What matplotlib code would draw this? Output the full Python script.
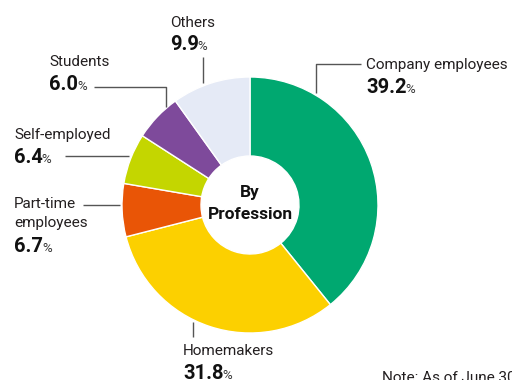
import matplotlib
matplotlib.use("Agg")
import matplotlib.pyplot as plt

# Survey share by profession (percent)
categories = ["Company employees", "Homemakers", "Part-time employees",
              "Self-employed", "Students", "Others"]
shares = [39.2, 31.8, 6.7, 6.4, 6.0, 9.9]
colors = ["#00A870", "#FCD000", "#E95506", "#C4D600", "#7E4A9B", "#E5EAF6"]
center_title = ["By", "Profession"]
note = "Note: As of June 30"

W, H = 512, 380
fig = plt.figure(figsize=(W / 100, H / 100), dpi=100)
ax = fig.add_axes([0, 0, 1, 1])

def Y(y):
    # pixel row (top-down) -> axes coordinate (bottom-up)
    return H - y

cx, cy, R, r_in = 250, 205, 128, 49
ax.pie(shares, colors=colors, startangle=90, counterclock=False,
       center=(cx, Y(cy)), radius=R,
       wedgeprops=dict(width=R - r_in, edgecolor="white", linewidth=1.0))
ax.set_xlim(0, W)
ax.set_ylim(0, H)
ax.set_aspect("equal")
ax.axis("off")

FONT = ["Roboto", "DejaVu Sans"]
TXT = "#231f20"
LINE = "#555555"

ax.text(cx, Y(197), center_title[0], ha="center", va="baseline",
        fontsize=12.5, fontweight="bold", family=FONT, color="#111111")
ax.text(cx, Y(219), center_title[1], ha="center", va="baseline",
        fontsize=12.5, fontweight="bold", family=FONT, color="#111111")

# label anchors: (name lines, value, x, name-line baselines, value baseline)
labels = [
    ([categories[5]], shares[5], 170, [27], 50),
    ([categories[4]], shares[4], 49, [66], 90),
    ([categories[3]], shares[3], 14, [139], 163),
    (["Part-time", "employees"], shares[2], 14, [208, 227], 252),
    ([categories[1]], shares[1], 183, [355], 379),
    ([categories[0]], shares[0], 366, [69], 93),
]

fig.canvas.draw()
renderer = fig.canvas.get_renderer()
inv = ax.transData.inverted()
for lines, val, x, ybs, yb_val in labels:
    for line, yb in zip(lines, ybs):
        ax.text(x, Y(yb), line, ha="left", va="baseline", fontsize=11,
                family=FONT, color=TXT)
    t = ax.text(x, Y(yb_val), f"{val:.1f}", ha="left", va="baseline",
                fontsize=14.5, fontweight="bold", family=FONT, color="#111111")
    bb = t.get_window_extent(renderer)
    x1 = inv.transform((bb.x1, 0))[0]
    ax.text(x1 - 1, Y(yb_val), "%", ha="left", va="baseline", fontsize=9.5,
            family=FONT, color="#333333")

# leader lines (pixel rows top-down)
leaders = [
    [(203, 57), (203, 83)],
    [(94, 87), (166, 87), (166, 107)],
    [(65, 156), (129, 156)],
    [(83, 205), (120, 205)],
    [(193, 322), (193, 337)],
    [(316, 93), (316, 64), (361, 64)],
]
for pts in leaders:
    xs = [p[0] for p in pts]
    ys = [Y(p[1]) for p in pts]
    ax.plot(xs, ys, color=LINE, linewidth=1.0, solid_capstyle="butt")

ax.text(382, Y(382), note, ha="left", va="baseline", fontsize=11,
        family=FONT, color=TXT)

fig.savefig("out.png", dpi=100)
